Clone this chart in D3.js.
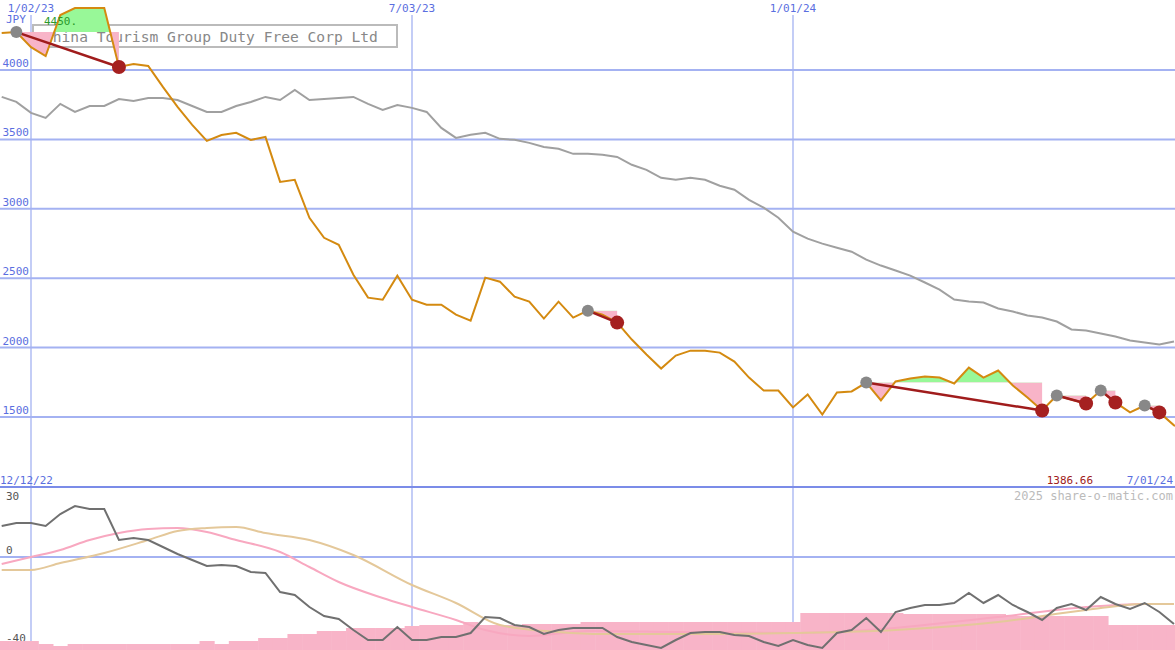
<!DOCTYPE html><html><head><meta charset="utf-8"><script src="https://cdn.jsdelivr.net/npm/d3@7"></script>
<style>body{margin:0;background:#fff}svg{display:block}text{font-family:"DejaVu Sans Mono",monospace}</style></head><body><svg id="c" width="1175" height="650"></svg>
<script>
const title="China Tourism Group Duty Free Corp Ltd";
const dateTicks=[{i:0,l:"1/02/23"},{i:26,l:"7/03/23"},{i:52,l:"1/01/24"}];
const priceTicks=[1500,2000,2500,3000,3500,4000];
// weekly close, first value at week index -2
const price=[4266,4273,4165,4101,4396,4446,4446,4446,4022,4043,4029,3878,3734,3604,3489,3532,3547,3496,3518,3194,3209,2935,2791,2741,2525,2360,2345,2518,2345,2309,2309,2238,2194,2504,2475,2367,2331,2209,2331,2216,2266,2238,2180,2058,1950,1849,1943,1978,1978,1964,1899,1784,1691,1691,1569,1662,1518,1677,1684,1748,1619,1756,1777,1792,1784,1741,1856,1784,1835,1727,1640,1547,1655,1626,1597,1691,1605,1533,1583,1533,1440,1398];
const avg=[3806,3770,3691,3655,3756,3698,3741,3741,3791,3777,3799,3799,3784,3741,3698,3698,3741,3770,3806,3784,3856,3784,3791,3799,3806,3756,3712,3748,3727,3698,3583,3511,3533,3547,3504,3497,3475,3446,3432,3396,3396,3389,3374,3317,3281,3223,3209,3223,3209,3166,3137,3065,3008,2936,2835,2785,2749,2720,2691,2634,2591,2555,2519,2469,2418,2346,2332,2325,2282,2260,2231,2217,2188,2131,2123,2102,2080,2051,2037,2023,2044];
const signals=[[1,8],[40,42],[59,71],[72,74],[75,76],[78,79]];
const osc=[15.5,17,17,15.5,21.5,25.5,24,24,8.5,9.5,8.5,5,1.5,-1.5,-4.5,-4,-4.5,-7.5,-8,-17.5,-19,-25,-29.5,-31,-36.5,-41.5,-41.5,-35,-41.5,-41.5,-40,-40,-38,-30,-30.5,-34,-35,-38.5,-36.5,-35.5,-35.5,-35.5,-40,-42.5,-44,-45.5,-41.5,-38,-37.5,-37.5,-39,-39.5,-42.5,-44.5,-41.5,-44,-45.5,-38,-36.5,-30.5,-37.5,-27.5,-25.5,-24,-24,-23,-18,-23,-19,-24,-27.5,-31.5,-25.5,-23.5,-26.5,-20,-23.5,-26,-23,-27.5,-33.5];
const bars=[-42,-42,-42,-43.5,-44.5,-43.5,-43.5,-43.5,-43.5,-43.5,-43.5,-43.5,-43.5,-43.5,-42,-43.5,-42,-42,-40.5,-40.5,-38.5,-38.5,-37,-37,-35.5,-35.5,-35.5,-35.5,-34.5,-34,-34,-34,-32.5,-34,-34,-34,-33.5,-33.5,-33.5,-33.5,-32.5,-32.5,-32.5,-32.5,-32.5,-32.5,-32.5,-32.5,-32.5,-32.5,-32.5,-32.5,-32.5,-32.5,-32.5,-28,-28,-28,-28,-28,-28,-28,-28.5,-28.5,-28.5,-28.5,-28.5,-28.5,-28.5,-29.5,-29.5,-29.5,-29.5,-29.5,-29.5,-29.5,-34,-34,-34,-34,-34];
const pinkIdx=[-2,0,2,4,6,8,10,12,14,17,19,21,24,26,29,31,34,38,44,52,58,66,72,76,78];
const pinkVal=[-3.5,0,3.5,8.5,12,14,14.5,12.5,8.5,2.5,-5,-12.5,-20.5,-25,-31.5,-36.5,-39.5,-37,-37.5,-38,-36,-30,-25,-23.5,-23.5];
const tanIdx=[-2,0,2,5,8,10,12,14,16,19,22,26,29,32,36,39,46,52,59,66,72,76,78];
const tanVal=[-6.5,-6.5,-3,2,8.5,13,14.5,15,12,8.5,1,-14,-23,-34,-37.5,-38.5,-38.5,-38,-36.5,-32.5,-26.5,-23.5,-23.5];
const oscTicks=[30,0,-40];

const svg=d3.select("#c");
const x=d3.scaleLinear().domain([0,52]).range([31,793]);
const xk=k=>x(k-2);
const y=d3.scaleLinear().domain([1500,4000]).range([417,70]);
const y2=d3.scaleLinear().domain([0,30]).range([557,497]);
const grid="#a4b2f2";
const defs=svg.append("defs");
defs.append("clipPath").attr("id","top").append("rect").attr("width",1175).attr("height",486);
defs.append("clipPath").attr("id","bot").append("rect").attr("y",488).attr("width",1175).attr("height",162);
// grids
priceTicks.forEach(v=>svg.append("line").attr("x1",0).attr("x2",1175).attr("y1",y(v)).attr("y2",y(v)).attr("stroke",grid).attr("stroke-width",2));
dateTicks.forEach(d=>svg.append("line").attr("x1",x(d.i)).attr("x2",x(d.i)).attr("y1",15).attr("y2",650).attr("stroke",grid).attr("stroke-width",1.3));
svg.append("line").attr("x1",0).attr("x2",1175).attr("y1",y2(0)).attr("y2",y2(0)).attr("stroke",grid).attr("stroke-width",2);
svg.append("line").attr("x1",0).attr("x2",1175).attr("y1",487).attr("y2",487).attr("stroke","#7b8ce8").attr("stroke-width",2);
// title box
svg.append("rect").attr("x",33).attr("y",25).attr("width",364).attr("height",22).attr("fill","#fff").attr("stroke","#bbb").attr("stroke-width",2);
svg.append("text").attr("x",44).attr("y",42).attr("font-size",14.6).attr("fill","#888").text(title);
// labels
priceTicks.forEach(v=>svg.append("text").attr("x",29).attr("y",y(v)-3).attr("text-anchor","end").attr("font-size",11).attr("fill","#5a6ee0").text(v));
dateTicks.forEach(d=>svg.append("text").attr("x",x(d.i)).attr("y",12).attr("text-anchor","middle").attr("font-size",11).attr("fill","#5a6ee0").text(d.l));
svg.append("text").attr("x",6).attr("y",23).attr("font-size",11).attr("fill","#5a6ee0").text("JPY");
svg.append("text").attr("x",0).attr("y",484).attr("font-size",11).attr("fill","#5a6ee0").text("12/12/22");
svg.append("text").attr("x",1173).attr("y",484).attr("text-anchor","end").attr("font-size",11).attr("fill","#5a6ee0").text("7/01/24");
svg.append("text").attr("x",1093).attr("y",484).attr("text-anchor","end").attr("font-size",11).attr("fill","#a02020").text("1386.66");
svg.append("text").attr("x",1173).attr("y",500).attr("text-anchor","end").attr("font-size",12).attr("fill","#bbb").text("2025 share-o-matic.com");
oscTicks.forEach(v=>svg.append("text").attr("x",6).attr("y",y2(v)+(v===30?3:(v===0?-3:5))).attr("font-size",11).attr("fill","#555").text(v));
const T=svg.append("g").attr("clip-path","url(#top)");
const B=svg.append("g").attr("clip-path","url(#bot)");
// gray average
const ln=d3.line().x((d,k)=>xk(k)).y(d=>y(d));
T.append("path").attr("d",ln(avg)).attr("fill","none").attr("stroke","#a0a0a0").attr("stroke-width",2);
// signal shading
signals.forEach(([s,e],n)=>{
  const base=price[s], seg=d3.range(s,e+1);
  const ar=d3.area().x(k=>xk(k)).y0(y(base)).y1(k=>y(price[k]));
  defs.append("clipPath").attr("id","ab"+n).append("rect").attr("x",0).attr("y",0).attr("width",1175).attr("height",y(base));
  defs.append("clipPath").attr("id","bl"+n).append("rect").attr("x",0).attr("y",y(base)).attr("width",1175).attr("height",650);
  T.append("path").attr("d",ar(seg)).attr("fill","#98f898").attr("clip-path","url(#ab"+n+")");
  T.append("path").attr("d",ar(seg)).attr("fill","#f8b4c8").attr("clip-path","url(#bl"+n+")");
});
svg.append("text").attr("x",44).attr("y",25).attr("font-size",11).attr("fill","#2a9a2a").text("4450.");
T.append("path").attr("d",ln(price)).attr("fill","none").attr("stroke","#d48a10").attr("stroke-width",2);
signals.forEach(([s,e])=>{
  T.append("line").attr("x1",xk(s)).attr("y1",y(price[s])).attr("x2",xk(e)).attr("y2",y(price[e])).attr("stroke","#a01c1c").attr("stroke-width",2.5);
  T.append("circle").attr("cx",xk(s)).attr("cy",y(price[s])).attr("r",6).attr("fill","#888");
  T.append("circle").attr("cx",xk(e)).attr("cy",y(price[e])).attr("r",7).attr("fill","#a52020");
});
// lower panel
const bw=x(1)-x(0);
B.selectAll(".b").data(bars).join("rect").attr("x",(d,k)=>xk(k)-bw/2).attr("width",bw+0.5).attr("y",d=>y2(d)).attr("height",d=>650-y2(d)).attr("fill","#f8b4c8");
const sm=d3.line().curve(d3.curveMonotoneX);
B.append("path").attr("d",sm(pinkIdx.map((i,j)=>[x(i),y2(pinkVal[j])]))).attr("fill","none").attr("stroke","#f8a8c0").attr("stroke-width",2);
B.append("path").attr("d",sm(tanIdx.map((i,j)=>[x(i),y2(tanVal[j])]))).attr("fill","none").attr("stroke","#e4c89a").attr("stroke-width",2);
B.append("path").attr("d",d3.line().x((d,k)=>xk(k)).y(d=>y2(d))(osc)).attr("fill","none").attr("stroke","#707070").attr("stroke-width",2);
</script></body></html>
